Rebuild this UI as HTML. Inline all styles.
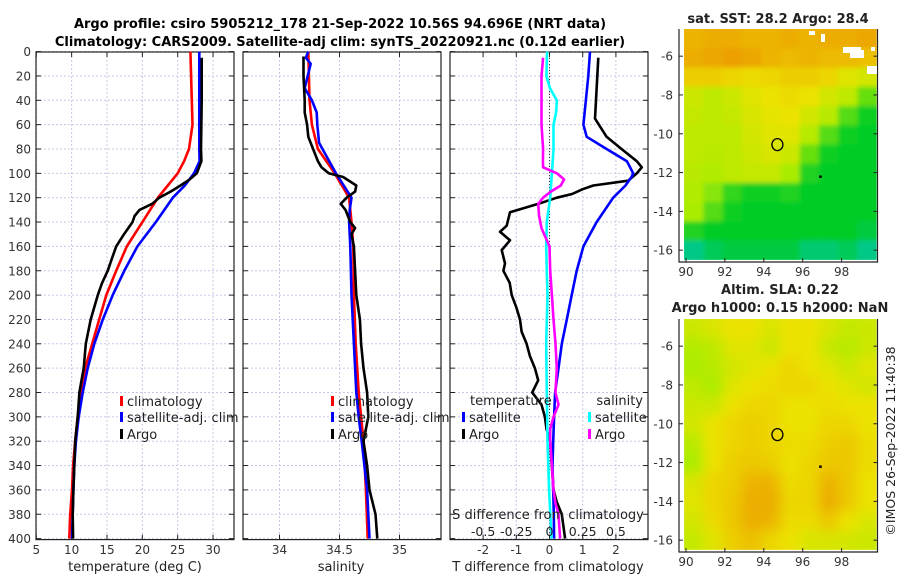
<!DOCTYPE html>
<html><head><meta charset="utf-8"><style>
body{margin:0;background:#fff;}
svg{display:block;font-family:"DejaVu Sans","Liberation Sans",sans-serif;}
</style></head><body>
<svg id="c" width="900" height="580" viewBox="0 0 900 580">
<g id="g-title" font-weight="bold" font-size="13" text-anchor="middle">
<text x="340" y="28">Argo profile: csiro 5905212_178 21-Sep-2022 10.56S 94.696E (NRT data)</text>
<text x="340" y="46">Climatology: CARS2009. Satellite-adj clim: synTS_20220921.nc (0.12d earlier)</text>
</g>
</svg>
<script>
// ---- depth axis
const depthTicks=[0,20,40,60,80,100,120,140,160,180,200,220,240,260,280,300,320,340,360,380,400];
// ---- panel 1 temperature
const tTicks=[5,10,15,20,25,30];
const tClimD=[0,20,40,60,80,90,100,110,120,140,160,180,200,220,240,260,280,300,320,340,360,380,400];
const tClimV=[26.8,26.9,27.0,27.1,26.6,25.9,25.0,23.6,22.2,20.0,17.8,16.3,14.9,13.9,12.9,11.9,11.3,10.85,10.5,10.2,10.05,9.8,9.67];
const tSatD=[0,20,40,60,80,90,100,110,120,140,160,180,200,220,240,260,280,300,320,340,360,380,400];
const tSatV=[28.05,28.05,28.05,28.05,28.05,28.1,27.3,26.0,24.3,21.9,19.3,17.45,15.8,14.4,13.2,12.27,11.56,11.0,10.6,10.37,10.25,10.15,10.05];
const tArgoD=[5,40,80,90,100,105,110,115,120,125,130,135,140,150,160,170,180,190,200,220,240,260,270,280,300,320,340,360,380,400];
const tArgoV=[28.4,28.4,28.3,28.35,27.7,26.7,25.4,24.0,22.4,21.4,19.6,18.9,18.6,17.4,16.3,15.7,15.1,14.3,13.7,12.7,12.0,11.7,11.4,11.1,10.85,10.5,10.37,10.25,10.15,10.2];
// ---- panel 2 salinity
const sTicks=[34,34.5,35];
const sClimD=[0,40,60,80,100,120,140,160,200,240,280,300,320,360,400];
const sClimV=[34.24,34.25,34.27,34.32,34.46,34.58,34.60,34.615,34.62,34.635,34.66,34.68,34.70,34.72,34.735];
const sSatD=[0,5,10,30,40,50,60,75,100,120,130,140,160,200,240,280,300,320,360,400];
const sSatV=[34.24,34.22,34.26,34.21,34.27,34.31,34.315,34.33,34.47,34.60,34.585,34.58,34.59,34.60,34.62,34.64,34.66,34.685,34.73,34.75];
const sArgoD=[4,20,40,50,60,70,80,90,95,100,103,110,115,120,125,130,140,145,150,160,180,200,220,240,260,280,300,320,340,360,380,400];
const sArgoV=[34.20,34.20,34.21,34.21,34.23,34.24,34.28,34.32,34.35,34.41,34.53,34.64,34.63,34.56,34.51,34.55,34.59,34.63,34.60,34.62,34.63,34.64,34.67,34.68,34.70,34.73,34.74,34.70,34.73,34.75,34.80,34.815];
// ---- panel 3 differences
const dTTicks=[-2,-1,0,1,2];
const dSTicks=[-0.5,-0.25,0,0.25,0.5];
const dSTickLabels=["-0.5","-0.25","0","0.25","0.5"];
const dTArgoD=[5,40,55,70,80,90,95,100,106,110,113,117,120,125,132,143,148,155,163,174,180,190,200,210,220,230,240,250,260,270,280,290,300,310,320,340,360,370,380,400];
const dTArgoV=[1.47,1.40,1.37,1.72,2.17,2.63,2.78,2.63,2.37,1.32,1.0,0.68,0.22,-0.33,-1.19,-1.29,-1.49,-1.19,-1.44,-1.34,-1.39,-1.2,-1.14,-1.0,-0.89,-0.84,-0.69,-0.59,-0.44,-0.34,-0.52,-0.24,-0.14,-0.09,0.02,0.07,0.12,0.22,0.37,0.47];
const dTSatD=[0,20,60,70,80,90,100,103,110,120,140,160,180,200,220,240,260,280,300,320,340,360,380,400];
const dTSatV=[1.22,1.17,1.02,1.12,1.72,2.33,2.52,2.47,2.29,1.92,1.42,1.02,0.82,0.67,0.52,0.37,0.27,0.17,0.14,0.11,0.09,0.11,0.13,0.14];
const dSSatD=[0,20,30,40,50,60,80,100,120,140,160,180,200,240,280,320,360,400];
const dSSatV=[-0.018,-0.023,0.003,0.055,0.05,0.03,0.03,0.018,0.005,-0.02,-0.025,-0.02,-0.015,-0.025,-0.02,-0.015,-0.003,0.015];
const dSArgoD=[5,20,60,80,90,95,100,105,110,115,120,125,135,145,160,180,200,220,240,260,280,290,300,310,320,340,360,370,380,400];
const dSArgoV=[-0.048,-0.06,-0.06,-0.048,-0.05,-0.048,0.055,0.11,0.085,0.01,-0.048,-0.085,-0.078,-0.06,0.0,0.005,0.018,0.03,0.045,0.055,0.045,0.068,0.03,0.005,0.005,0.018,0.03,0.043,0.068,0.08];
// ---- map data
const lonTicks=[90,92,94,96,98];
const latTicks=[-6,-8,-10,-12,-14,-16];
const sstGrid=[
[3.7,3.8,3.8,3.7,3.7,3.8,3.7,3.8,3.8,3.9],
[3.8,3.9,4.0,3.9,3.7,3.6,3.7,3.6,3.6,3.5],
[3.3,3.3,3.2,3.1,3.2,3.3,3.3,3.2,2.8,2.6],
[2.5,2.3,2.5,2.8,3.0,3.1,3.0,2.6,2.3,1.6],
[2.4,2.3,2.4,2.7,2.9,3.0,2.6,2.2,1.5,1.1],
[2.3,2.3,2.3,2.6,2.8,2.8,2.2,1.5,1.1,1.0],
[2.3,2.2,2.3,2.5,2.7,2.5,1.6,1.1,1.0,1.0],
[2.2,2.1,2.3,2.4,2.4,2.0,1.2,1.0,1.0,1.0],
[2.1,1.8,1.3,1.1,1.1,1.2,1.0,1.0,1.0,1.0],
[2.0,1.5,1.1,1.0,1.0,1.0,1.0,1.0,1.0,1.0],
[1.2,1.0,1.0,1.0,1.0,1.0,1.0,1.0,1.0,0.9],
[0.6,0.8,0.9,0.9,0.9,0.9,0.7,0.7,0.8,0.6]];
const slaGrid=[
[2.5,2.7,3.0,3.0,2.7,3.0,3.0,2.7,2.4,2.5],
[2.1,2.3,2.8,2.8,2.5,3.0,3.0,2.4,2.2,2.5],
[2.0,2.2,2.6,2.8,3.0,3.2,3.0,2.8,2.5,2.8],
[2.3,2.0,2.8,3.0,3.1,3.2,3.2,3.0,2.8,2.6],
[2.5,2.5,3.0,3.2,3.2,3.0,3.0,3.1,3.0,3.0],
[2.6,3.0,3.2,3.3,3.2,3.0,3.0,3.2,3.2,3.0],
[2.2,3.0,3.2,3.3,3.2,3.1,3.1,3.3,3.4,3.1],
[2.0,3.0,3.3,3.4,3.3,3.0,3.2,3.4,3.4,3.1],
[2.7,3.2,3.3,3.7,3.7,3.1,3.2,3.7,3.4,3.0],
[2.8,3.2,3.4,3.8,3.8,3.2,3.2,3.8,3.4,3.0],
[2.6,3.1,3.4,3.8,3.7,3.1,3.1,3.4,3.0,2.7],
[2.4,2.8,3.3,3.5,3.2,3.0,2.7,2.7,2.6,2.5]];
const argoPos=[94.7,-10.56];
const otherPos=[96.9,-12.2];

const NS='http://www.w3.org/2000/svg';
const svg=document.getElementById('c');
function mk(tag,attrs,parent){const e=document.createElementNS(NS,tag);for(const k in attrs)e.setAttribute(k,attrs[k]);(parent||svg).appendChild(e);return e;}
const Y0=51.6,YK=1.2175;
const yD=d=>Y0+d*YK;
const panels=[
 {x0:36.3,k:7.07,v0:5,left:36,right:234},
 {x0:279.5,k:120,v0:34,left:243,right:441},
 {x0:549.5,k:33.2,v0:0,left:450,right:648}];
function xf(p,v){return p.x0+(v-p.v0)*p.k;}
const TOP=52,BOT=539.6;

function drawFrame(p,xt,name,labelsY){
 const g=mk('g',{});
 
 
 depthTicks.forEach(d=>{const l=mk('line',{x1:p.left,x2:p.right,y1:yD(d),y2:yD(d),stroke:'#c4c8e6','stroke-width':1,'stroke-dasharray':'2,2'},g);
  
  });
 xt.forEach(v=>{const x=xf(p,v);const l=mk('line',{x1:x,x2:x,y1:TOP,y2:BOT,stroke:'#c4c8e6','stroke-width':1,'stroke-dasharray':'2,2'},g);
  
  
  mk('line',{x1:x,x2:x,y1:BOT,y2:BOT-5,stroke:'#222'},g);mk('line',{x1:x,x2:x,y1:TOP,y2:TOP+5,stroke:'#222'},g);
  const t=mk('text',{x:x,y:554,'font-size':12,'text-anchor':'middle',fill:'#333'},g);t.textContent=String(v);
  
  });
 depthTicks.forEach(d=>{mk('line',{x1:p.left,x2:p.left+5,y1:yD(d),y2:yD(d),stroke:'#222'},g);mk('line',{x1:p.right,x2:p.right-5,y1:yD(d),y2:yD(d),stroke:'#222'},g);
  if(labelsY){const t=mk('text',{x:31,y:yD(d)+4.5,'font-size':12,'text-anchor':'end',fill:'#333'},g);t.textContent=String(d);
   
   }});
 const r=mk('rect',{x:p.left,y:TOP,width:p.right-p.left,height:BOT-TOP,fill:'none',stroke:'#222','stroke-width':1.2},g);
 
 
 return g;
}
function line(p,D,V,color,name,scale){
 const pts=D.map((d,i)=>xf(p,V[i]*(scale||1)).toFixed(1)+','+yD(d).toFixed(1)).join(' ');
 const l=mk('polyline',{points:pts,fill:'none',stroke:color,'stroke-width':2.6,'stroke-linejoin':'round'});
 
 
}
function txt(x,y,s,name,o){const t=mk('text',Object.assign({x:x,y:y,'font-size':13,fill:'#222'},o||{}));t.textContent=s;
 
 return t;}
function legend(x,y,color,label,name){
 const g=mk('g',{});
 
 
 mk('rect',{x:x,y:y-10,width:3,height:10,fill:color},g);
 const t=mk('text',{x:x+7,y:y,'font-size':13,fill:'#222'},g);t.textContent=label;
}
// panel 1
drawFrame(panels[0],tTicks,'temperature-axes',true);
line(panels[0],tClimD,tClimV,'#ff0000','temp-climatology-line');
line(panels[0],tSatD,tSatV,'#0000ff','temp-satellite-line');
line(panels[0],tArgoD,tArgoV,'#000','temp-argo-line');
legend(120,406,'#ff0000','climatology','legend-climatology');
legend(120,422,'#0000ff','satellite-adj. clim','legend-satellite');
legend(120,439,'#000','Argo','legend-argo');
txt(135,571,'temperature (deg C)','x-axis-title-temperature',{'text-anchor':'middle'});
// panel 2
drawFrame(panels[1],sTicks,'salinity-axes',false);
line(panels[1],sClimD,sClimV,'#ff0000','sal-climatology-line');
line(panels[1],sSatD,sSatV,'#0000ff','sal-satellite-line');
line(panels[1],sArgoD,sArgoV,'#000','sal-argo-line');
legend(331,406,'#ff0000','climatology','legend-climatology-2');
legend(331,422,'#0000ff','satellite-adj. clim','legend-satellite-2');
legend(331,439,'#000','Argo','legend-argo-2');
txt(341,571,'salinity','x-axis-title-salinity',{'text-anchor':'middle'});
// panel 3
drawFrame(panels[2],dTTicks,'difference-axes',false);
(function(){const x=xf(panels[2],0);const l=mk('line',{x1:x,x2:x,y1:TOP,y2:BOT,stroke:'#333','stroke-width':1,'stroke-dasharray':'1,2'});
 
 })();
line(panels[2],dTArgoD,dTArgoV,'#000','tdiff-argo-line');
line(panels[2],dTSatD,dTSatV,'#0000ff','tdiff-satellite-line');
line(panels[2],dSSatD,dSSatV,'#00ffff','sdiff-satellite-line',4);
line(panels[2],dSArgoD,dSArgoV,'#ff00ff','sdiff-argo-line',4);
txt(470,405,'temperature','legend-temperature-header');
legend(462,422,'#0000ff','satellite','legend-tdiff-satellite');
legend(462,439,'#000','Argo','legend-tdiff-argo');
txt(643,405,'salinity','legend-salinity-header',{'text-anchor':'end'});
legend(588,422,'#00ffff','satellite','legend-sdiff-satellite');
legend(588,439,'#ff00ff','Argo','legend-sdiff-argo');
txt(548,519,'S difference from climatology','s-diff-axis-title',{'text-anchor':'middle'});
dSTicks.forEach((v,i)=>{txt(xf(panels[2],v*4),536,dSTickLabels[i],'s-diff-tick-label',{'text-anchor':'middle','font-size':12.5});});
txt(548,571,'T difference from climatology','x-axis-title-tdiff',{'text-anchor':'middle'});

// maps
function colorOf(v){
 const st=[[0.5,[0,200,160]],[1,[0,204,40]],[2,[170,236,0]],[3,[236,226,0]],[4,[236,160,0]]];
 if(v<=st[0][0])return 'rgb('+st[0][1]+')';
 for(let i=1;i<st.length;i++){if(v<=st[i][0]){const a=st[i-1],b=st[i],t=(v-a[0])/(b[0]-a[0]);
  return 'rgb('+a[1].map((c,j)=>Math.round(c+(b[1][j]-c)*t)).join(',')+')';}}
 return 'rgb('+st[4][1]+')';
}
function drawMap(top,grid,name,blur){
 const L=679,R=877.5,B=top+233;
 const lonX=lon=>686+(lon-90)*19.45;
 const latY=lat=>top+(-4.6-lat)*19.4;
 const g=mk('g',{});
 
 
 const cid='clip'+top;
 const cp=mk('clipPath',{id:cid},g);mk('rect',{x:lonX(89.9),y:top,width:lonX(99.8)-lonX(89.9),height:latY(-16.5)-top},cp);
 if(blur){const f=mk('filter',{id:'bl'+top,x:'-10%',y:'-10%',width:'120%',height:'120%'},g);mk('feGaussianBlur',{stdDeviation:blur},f);}
 const cg=mk('g',{'clip-path':'url(#'+cid+')'},g);
 const ig=blur?mk('g',{filter:'url(#bl'+top+')'},cg):cg;
 const nr=grid.length,nc=grid[0].length;
 const lonStep=(99.8-89.9)/nc,latStep=(16.5-4.6)/nr;
 grid.forEach((row,r)=>row.forEach((v,c)=>{
  const x0=lonX(89.9+c*lonStep),y0=latY(-4.6-r*latStep);
  const pad=blur?10:0;
  const ex=(c===0?-pad:0),ey=(r===0?-pad:0),ew=(c===nc-1?pad:0)-ex,eh=(r===nr-1?pad:0)-ey;
  const cell=mk('rect',{x:(x0+ex).toFixed(1),y:(y0+ey).toFixed(1),width:(lonStep*19.45+ew+0.6).toFixed(1),height:(latStep*19.4+eh+0.6).toFixed(1),fill:colorOf(v)},ig);
  
  
 }));
 const ax=mk('polyline',{points:L+','+top+' '+L+','+B+' '+R+','+B+' '+R+','+top,fill:'none',stroke:'#222','stroke-width':1.2},g);
 
 
 latTicks.forEach(lat=>{const y=latY(lat);mk('line',{x1:L,x2:L+4,y1:y,y2:y,stroke:'#222'},g);mk('line',{x1:R,x2:R-4,y1:y,y2:y,stroke:'#222'},g);
  txt(673,y+4.5,String(lat),'map-lat-label',{'text-anchor':'end','font-size':12,fill:'#333'});});
 lonTicks.forEach(lon=>{const x=lonX(lon);mk('line',{x1:x,x2:x,y1:B,y2:B-4,stroke:'#222'},g);
  txt(x,B+14,String(lon),'map-lon-label',{'text-anchor':'middle','font-size':12,fill:'#333'});});
 const c1=mk('ellipse',{cx:lonX(argoPos[0]),cy:latY(argoPos[1]),rx:5.5,ry:6,fill:'none',stroke:'#000','stroke-width':1.3},g);
 
 
 const c2=mk('rect',{x:lonX(otherPos[0])-1,y:latY(otherPos[1])-1,width:2.5,height:2.5,fill:'#000'},g);
 
 
}
drawMap(29,sstGrid,'sst-map',2.5);
[[809,31,6,4],[821,34,4,8],[843,47,18,6],[850,50,14,8],[867,66,10,8],[871,47,4,4]].forEach(r=>{const e=mk('rect',{x:r[0],y:r[1],width:r[2],height:r[3],fill:'#fff'});
 
 });
drawMap(319,slaGrid,'sla-map',6);
txt(778,23,'sat. SST: 28.2 Argo: 28.4','sst-map-title',{'text-anchor':'middle','font-weight':'bold'});
txt(780,294,'Altim. SLA: 0.22','sla-map-title-1',{'text-anchor':'middle','font-weight':'bold'});
txt(780,312,'Argo h1000: 0.15 h2000: NaN','sla-map-title-2',{'text-anchor':'middle','font-weight':'bold'});
txt(0,0,'©IMOS 26-Sep-2022 11:40:38','copyright-label',{'text-anchor':'middle','font-size':12.5,transform:'translate(895,441) rotate(-90)'});
</script>
</body></html>
